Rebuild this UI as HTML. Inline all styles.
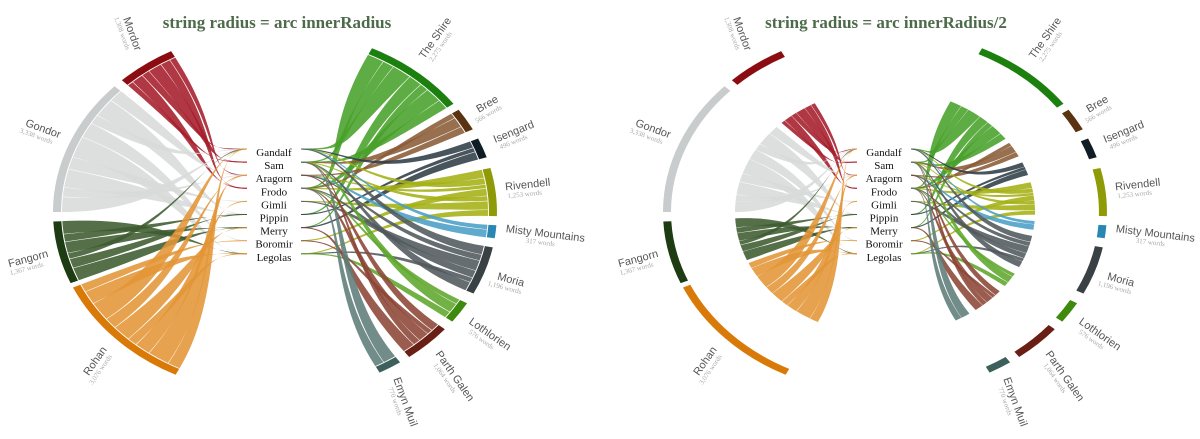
<!DOCTYPE html>
<html><head><meta charset="utf-8"><style>
html,body{margin:0;padding:0;background:#fff;}
svg{display:block;}
.t{font-family:"Liberation Serif",serif;font-weight:bold;font-size:17px;fill:#4d6b4a;text-anchor:middle;}
.n{font-family:"Liberation Serif",serif;font-size:11px;fill:#111;text-anchor:middle;}
.l{font-family:"Liberation Sans",sans-serif;font-size:11px;fill:#555;text-anchor:middle;}
.w{font-family:"Liberation Serif",serif;font-size:7px;fill:#aaa;text-anchor:middle;}
</style></head><body>
<svg id="s" width="1200" height="439" xmlns="http://www.w3.org/2000/svg">
<text class="t" x="277" y="28">string radius = arc innerRadius</text>
<text class="t" x="886" y="28">string radius = arc innerRadius/2</text>
<g id="g"></g>
</svg>
<script>
var NS="http://www.w3.org/2000/svg",G=document.getElementById("g");
var chars=["Gandalf","Sam","Aragorn","Frodo","Gimli","Pippin","Merry","Boromir","Legolas"];
var cy0=152,dy=13.1,SY=0.82;
var locs=[
["Mordor",316.4,332.1,"#8b0d12","#a51d2b","1,308 words",["Sam","Frodo","Gandalf","Sam","Frodo","Aragorn"],[129,35,70]],
["Gondor",270,313.7,"#c8cccc","#d8dbdb","3,338 words",["Gandalf","Aragorn","Pippin","Gimli","Legolas","Boromir","Gandalf","Pippin","Aragorn"],[42,132,20]],
["Fangorn",247,267,"#1e3c14","#3e5b30","1,367 words",["Merry","Pippin","Gandalf","Merry","Pippin","Legolas"],[29,262,-15]],
["Rohan",206.6,245.5,"#d97a08","#e39536","3,076 words",["Gandalf","Aragorn","Gimli","Legolas","Merry","Aragorn","Gandalf","Legolas","Boromir"],[98,363,-55]],
["The Shire",25.9,53.5,"#1c800e","#48a02a","2,275 words",["Frodo","Sam","Gandalf","Pippin","Merry","Frodo","Sam"],[438,40,-55]],
["Bree",55.8,63,"#5a3412","#8a5b37","566 words",["Frodo","Sam","Aragorn"],[489,107,-30]],
["Isengard",66.2,72.5,"#101d25","#2f3e46","496 words",["Gandalf","Pippin","Merry"],[515,135,-22]],
["Rivendell",76,91.3,"#8e9a06","#a4b014","1,253 words",["Frodo","Gandalf","Aragorn","Boromir","Sam","Gimli","Legolas"],[528,188,-6]],
["Misty Mountains",94.2,98.3,"#2a86b3","#4a9fc6","317 words",["Gandalf","Aragorn"],[545,237,7]],
["Moria",101.2,116.6,"#394144","#51595c","1,196 words",["Gandalf","Aragorn","Gimli","Frodo","Legolas","Sam"],[510,283,15]],
["Lothlorien",120.1,127,"#3e8a0c","#5ea62b","576 words",["Frodo","Sam","Legolas"],[488,337,35]],
["Parth Galen",130.1,142.8,"#6a1f15","#8b4535","1,064 words",["Aragorn","Boromir","Frodo","Sam","Merry"],[452,378,55]],
["Emyn Muil",145.7,151.9,"#3e605c","#5e7d79","770 words",["Sam","Frodo"],[402,403,70]]
];
function el(t,a,p){var e=document.createElementNS(NS,t);for(var k in a)e.setAttribute(k,a[k]);(p||G).appendChild(e);return e;}
function P(cx,cy,a,r){var t=a*Math.PI/180;return [cx+r*Math.sin(t),cy-r*Math.cos(t)*SY];}
function f(p){return p[0].toFixed(1)+","+p[1].toFixed(1);}
function chart(cx,cy,rs,dx){
  var R=222,r=214;
  locs.forEach(function(L,i){
    var a0=L[1],a1=L[2],list=L[6],ws=[],tot=0;
    list.forEach(function(c,j){var w=1+((i*7+j*3)%5)/3;ws.push(w);tot+=w;});
    var gap=0.15,span=a1-a0-gap*(list.length-1),cur=a0;
    var right=a0<180;
    list.forEach(function(c,j){
      var s=cur,e=cur+span*ws[j]/tot;cur=e+gap;
      var k=chars.indexOf(c),ty=cy0+k*dy-3,tx=cx+(right?26:-28);
      var hx=cx+(right?rs*0.35:-rs*0.35);
      var p0=P(cx,cy,s,rs),p1=P(cx,cy,e,rs),q0=P(cx,cy,s,rs*0.45),q1=P(cx,cy,e,rs*0.45);
      var d="M"+f(p0)+"A"+rs+","+(rs*SY)+" 0 0 1 "+f(p1)+"C"+f(q1)+" "+hx+","+(ty+0.5)+" "+tx+","+(ty+0.5)+"L"+tx+","+(ty-0.5)+"C"+hx+","+(ty-0.5)+" "+f(q0)+" "+f(p0)+"Z";
      el("path",{d:d,fill:L[4],"fill-opacity":0.88});
    });
  });
  locs.forEach(function(L){
    var a0=L[1],a1=L[2];
    var d="M"+f(P(cx,cy,a0,R))+"A"+R+","+(R*SY)+" 0 0 1 "+f(P(cx,cy,a1,R))+"L"+f(P(cx,cy,a1,r))+"A"+r+","+(r*SY)+" 0 0 0 "+f(P(cx,cy,a0,r))+"Z";
    el("path",{d:d,fill:L[3]});
    var g=el("g",{transform:"translate("+(L[7][0]+dx)+","+L[7][1]+") rotate("+L[7][2]+")"});
    var t=el("text",{"class":"l",x:0,y:0},g);t.textContent=L[0];
    var w=el("text",{"class":"w",x:-4,y:8},g);w.textContent=L[5];
  });
  chars.forEach(function(c,k){var t=el("text",{"class":"n",x:cx-1,y:cy0+k*dy+4});t.textContent=c;});
}
chart(275,212,213,0);
chart(885,212,150,610);
</script>
</body></html>
